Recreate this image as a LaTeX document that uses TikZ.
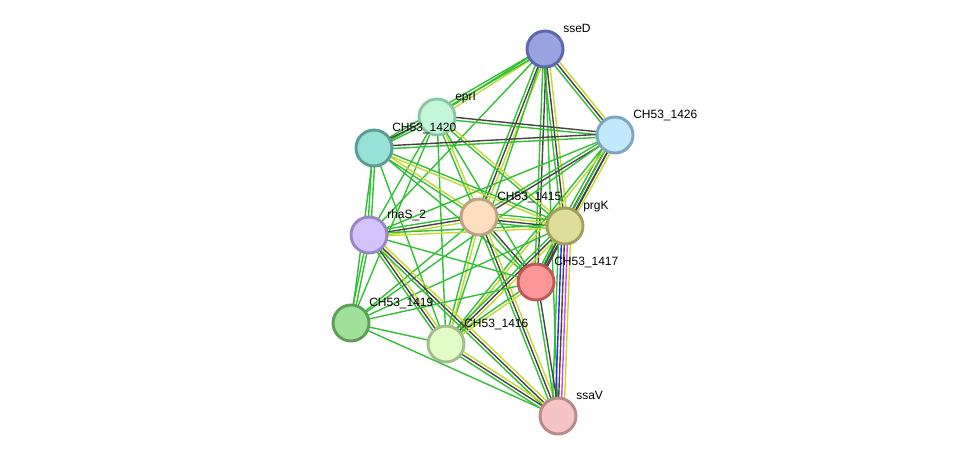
\documentclass[tikz,border=0pt]{standalone}
\usepackage{fontspec}
\setmainfont{Liberation Sans}
\usetikzlibrary{positioning, calc, backgrounds}

% evidence colours
\definecolor{egreen}{HTML}{33BF33}
\definecolor{eyellow}{HTML}{C3D92E}
\definecolor{eblack}{HTML}{444444}
\definecolor{eblue}{HTML}{2626F0}
\definecolor{epink}{HTML}{E040E0}

\tikzset{
  prot/.style={circle, draw, line width=2.2pt, minimum size=27pt, inner sep=0pt},
  lbl/.style={font=\fontsize{9}{11}\selectfont, inner sep=0pt, anchor=base west},
  evid/.style={line width=1.05pt},
}

% one bundle of parallel lines between two nodes
\newcount\nlines
\newcommand{\linkedge}[3]{%
  \global\nlines=0
  \foreach \c in #3 {\global\advance\nlines by 1}
  \foreach \c [count=\i] in #3 {
    \pgfmathsetmacro\off{(\i-(\the\nlines+1)/2)*2.25}
    \draw[evid, \c] ($(#1)!\off pt!90:(#2)$) -- ($(#2)!\off pt!-90:(#1)$);
  }%
}

\begin{document}
\begin{tikzpicture}[x=0.75pt, y=-0.75pt]
  \useasboundingbox (0,0) rectangle (975,461);

  % Proteins
  \foreach \name/\px/\py/\fillc/\drawc in {
      sseD/545/49/99A3E0/5C66A8,
      eprI/437/117/C2F7D9/88C9A3,
      c1420/374/148/99E0D6/5A9E96,
      c1426/615/135/C2E8FC/7CA6BF,
      c1415/479/217/FCDDC0/BFA083,
      prgK/565/226/DEDC99/A09F5E,
      rhaS/369/235/D3C2FC/9A85C7,
      c1417/536/282/FC9696/BD5959,
      c1419/351/323/A1E09A/5E9E58,
      c1416/446/344/E1FCC5/A3BD8A,
      ssaV/558/416/F5C4C4/B88A8A} {
    \definecolor{fc}{HTML}{\fillc}
    \definecolor{dc}{HTML}{\drawc}
    \node[prot, fill=fc, draw=dc] (\name) at (\px,\py) {};
  }

  % Labels
  \foreach \name/\txt in {sseD/sseD, eprI/eprI, c1420/CH53\_1420, c1426/CH53\_1426,
      c1415/CH53\_1415, prgK/prgK, rhaS/rhaS\_2, c1417/CH53\_1417,
      c1419/CH53\_1419, c1416/CH53\_1416, ssaV/ssaV} {
    \node[lbl] (\name-l) at ([shift={(18,-17)}]\name.center) {\txt};
  }

  % Interactions
  \begin{scope}[on background layer]
    \foreach \a/\b/\cols in {
        sseD/eprI/{egreen,eyellow}, sseD/c1420/{egreen,egreen},
        sseD/rhaS/{egreen}, sseD/c1415/{egreen,eblack,eyellow},
        sseD/prgK/{egreen,eblack,eyellow}, sseD/c1417/{egreen,eblack},
        sseD/ssaV/{egreen}, sseD/c1426/{egreen,eblack,eyellow},
        sseD/c1416/{egreen},
        eprI/c1420/{eblack,egreen}, eprI/c1426/{egreen,eblack},
        eprI/c1415/{egreen,eyellow}, eprI/prgK/{egreen,eyellow},
        eprI/c1417/{egreen}, eprI/c1416/{egreen}, eprI/rhaS/{egreen},
        eprI/c1419/{egreen},
        c1420/c1426/{egreen,eblack}, c1420/rhaS/{egreen,egreen},
        c1420/c1419/{egreen}, c1420/c1415/{egreen,eyellow},
        c1420/prgK/{eyellow,egreen}, c1420/c1417/{egreen},
        c1420/c1416/{egreen},
        c1426/c1415/{egreen,eblack}, c1426/prgK/{egreen,eblack,eblack,eyellow},
        c1426/c1417/{egreen,eblack}, c1426/rhaS/{egreen},
        c1426/c1416/{egreen,eyellow}, c1426/c1419/{egreen},
        c1415/prgK/{egreen,eblack,eyellow,egreen}, c1415/rhaS/{egreen,eblack,eyellow},
        c1415/c1417/{egreen,eblack}, c1415/c1416/{egreen,eyellow},
        c1415/ssaV/{egreen,eblack,eyellow}, c1415/c1419/{egreen},
        prgK/rhaS/{egreen,eyellow}, prgK/c1417/{egreen,eblack,eblack},
        prgK/ssaV/{egreen,eblue,eblack,epink,eyellow},
        prgK/c1416/{egreen,eblack,eyellow}, prgK/c1419/{egreen},
        rhaS/c1416/{egreen,eblack,eyellow}, rhaS/ssaV/{egreen,eblack,eyellow},
        rhaS/c1419/{egreen,egreen}, rhaS/c1417/{egreen},
        c1417/c1416/{egreen,eyellow}, c1417/ssaV/{egreen,eblack},
        c1417/c1419/{egreen},
        c1419/c1416/{egreen}, c1419/ssaV/{egreen},
        c1416/ssaV/{egreen,eblack,eyellow}} {
      \linkedge{\a}{\b}{\cols}
    }
  \end{scope}
\end{tikzpicture}
\end{document}
